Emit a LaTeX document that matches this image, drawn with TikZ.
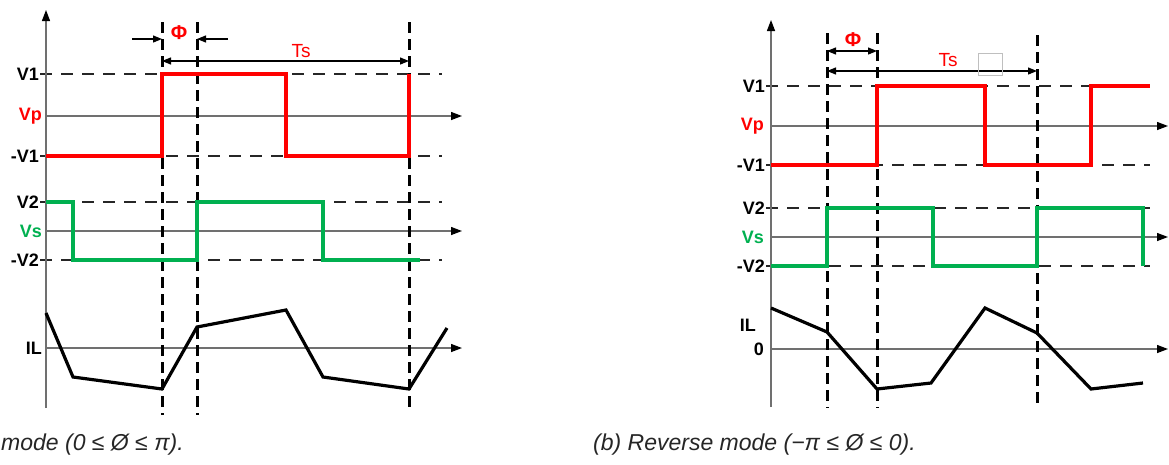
\documentclass[tikz,border=0pt]{standalone}
\usepackage{fontspec}
\setmainfont{Liberation Sans}
\usetikzlibrary{arrows.meta}
\definecolor{cred}{HTML}{FF0000}
\definecolor{cgreen}{HTML}{00B050}
\definecolor{caxis}{HTML}{707070}
\tikzset{
  every picture/.style={x=1pt, y=-1pt},
  axis/.style={draw=caxis, line width=1.3pt, -{Triangle[length=11pt, width=8pt, color=black]}},
  hdash/.style={draw=black!85, line width=2.2pt, dash pattern=on 12pt off 9pt},
  vdash/.style={draw=black, line width=3pt, dash pattern=on 11pt off 6pt},
  wave/.style={line width=3.2pt},
  dim/.style={draw=black, line width=1.2pt, -{Triangle[length=9pt, width=7pt]}},
}

\begin{document}
\begin{tikzpicture}[
  lab/.style={font=\fontsize{18}{20}\selectfont\bfseries, inner sep=0pt, anchor=east},
  philab/.style={font=\fontsize{20}{22}\selectfont\bfseries, text=cred, inner sep=0pt},
  tslab/.style={font=\fontsize{19}{20}\selectfont, text=cred, fill=white, inner sep=1pt},
  capline/.style={font=\fontsize{23}{25}\selectfont\itshape, text=black!85, inner sep=0pt, anchor=west}]
  \useasboundingbox (0,0) rectangle (1169,464);
  % (a) levels and axes
  \foreach \y/\t/\n in {74/V1/av1, 156/-V1/avm1, 202/V2/av2, 260/-V2/avm2} {
    \draw[hdash] (40,\y) -- (442,\y);
    \node[lab] (\n) at (39,\y) {\t};
  }
  \foreach \y/\t/\c/\n in {116/Vp/cred/avp, 231/Vs/cgreen/avs, 348/IL/black/ail} {
    \draw[axis] (46,\y) -- (462,\y);
    \node[lab, text=\c] (\n) at (42,\y) {\t};
  }
  \draw[axis] (46,408) -- (46,10);
  \foreach \x/\b in {162/415, 197/415, 409/412}
    \draw[vdash] (\x,22) -- (\x,\b);
  % (a) phi and Ts
  \coordinate (pa0) at (132,39); \coordinate (pa1) at (162,39);
  \coordinate (pa2) at (197,39); \coordinate (pa3) at (228,39);
  \draw[dim] (pa0) -- (pa1); \draw[dim] (pa3) -- (pa2);
  \node[philab] (aphi) at (179,33) {Φ};
  \coordinate (ta1) at (162,61); \coordinate (ta2) at (409,61);
  \draw[dim, {Triangle[length=9pt, width=7pt]}-{Triangle[length=9pt, width=7pt]}] (ta1) -- (ta2);
  \node[tslab] (ats) at (301,51) {Ts};
  % (a) waveforms
  \draw[wave, cred] (46,156) -- (162,156) -- (162,74) -- (286,74) -- (286,156) -- (409,156) -- (409,74);
  \draw[wave, cgreen] (46,202) -- (73,202) -- (73,260) -- (197,260) -- (197,202) -- (323,202) -- (323,260) -- (420,260);
  \draw[wave] (46,313) -- (73,377) -- (162,389) -- (197,327) -- (286,310) -- (323,377) -- (409,389) -- (447,328);
  \node[capline] (capa) at (1,445) {mode (0 ≤ Ø ≤ π).};

  % (b) levels and axes
  \foreach \y/\t/\n in {86/V1/bv1, 165/-V1/bvm1, 208/V2/bv2, 266/-V2/bvm2} {
    \draw[hdash] (766,\y) -- (1150,\y);
    \node[lab] (\n) at (765,\y) {\t};
  }
  \foreach \y/\t/\c/\n in {126/Vp/cred/bvp, 237/Vs/cgreen/bvs, 349/0/black/bzero} {
    \draw[axis] (771,\y) -- (1168,\y);
    \node[lab, text=\c] (\n) at (764,\y) {\t};
  }
  \node[lab] (bil) at (756,325) {IL};
  \draw[axis] (771,407) -- (771,20);
  \foreach \x/\t in {827/33, 877/33, 1037/35}
    \draw[vdash] (\x,\t) -- (\x,408);
  % (b) phi and Ts
  \coordinate (pb1) at (827,51); \coordinate (pb2) at (877,51);
  \draw[dim, {Triangle[length=9pt, width=7pt]}-{Triangle[length=9pt, width=7pt]}] (pb1) -- (pb2);
  \node[philab] (bphi) at (853,40) {Φ};
  \coordinate (tb1) at (827,71); \coordinate (tb2) at (1037,71);
  \draw[dim, {Triangle[length=9pt, width=7pt]}-{Triangle[length=9pt, width=7pt]}] (tb1) -- (tb2);
  \node[tslab] (bts) at (948,60) {Ts};
  \draw[black!25, line width=0.6pt] (978,53) rectangle (1002,75);
  % (b) waveforms
  \draw[wave, cred] (771,165) -- (877,165) -- (877,86) -- (985,86) -- (985,165) -- (1091,165) -- (1091,86) -- (1150,86);
  \draw[wave, cgreen] (771,266) -- (827,266) -- (827,208) -- (933,208) -- (933,266) -- (1037,266) -- (1037,208) -- (1143,208) -- (1143,266);
  \draw[wave] (771,308) -- (827,332) -- (877,389) -- (931,383) -- (985,308) -- (1037,333) -- (1091,389) -- (1143,383);
  \node[capline] (capb) at (593,445) {(b) Reverse mode (−π ≤ Ø ≤ 0).};
\end{tikzpicture}
\end{document}
